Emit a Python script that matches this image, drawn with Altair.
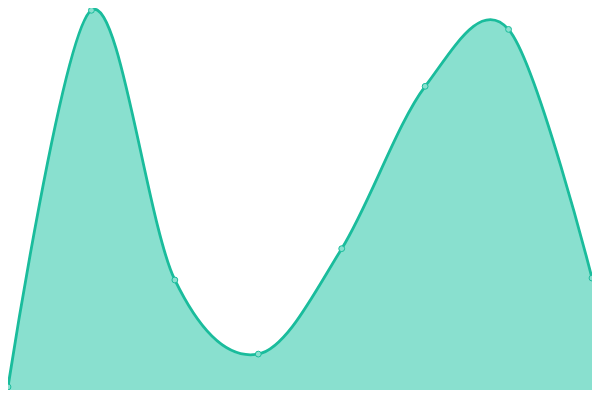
import altair as alt
import pandas as pd

# Data (x index, value on a 0-100 scale)
xs = [0, 1, 2, 3, 4, 5, 6, 7]
values = [0.8, 99.4, 28.8, 9.4, 37.0, 79.5, 94.4, 29.3]

df = pd.DataFrame({"x": xs, "v": values})

LINE = "#1abc9c"
FILL = "#89e0cf"

x_enc = alt.X("x:Q", axis=None, scale=alt.Scale(domain=[0, 7], nice=False, zero=False))
y_enc = alt.Y("v:Q", axis=None, scale=alt.Scale(domain=[0, 100], nice=False))

area = alt.Chart(df).mark_area(
    interpolate="cardinal",
    tension=0,
    color=FILL,
    opacity=1,
    line={"color": LINE, "strokeWidth": 2.8, "interpolate": "cardinal", "tension": 0},
).encode(x=x_enc, y=y_enc)

pts = alt.Chart(df).mark_point(
    filled=True, fill=FILL, stroke=LINE, strokeWidth=1, size=34, opacity=1
).encode(x=x_enc, y=y_enc)

chart = alt.layer(area, pts).properties(
    width=584, height=382, padding=0, autosize=alt.AutoSizeParams(type="none")
).configure_view(stroke=None)

chart.save("out.html", embed_options={"renderer": "svg", "actions": False})
